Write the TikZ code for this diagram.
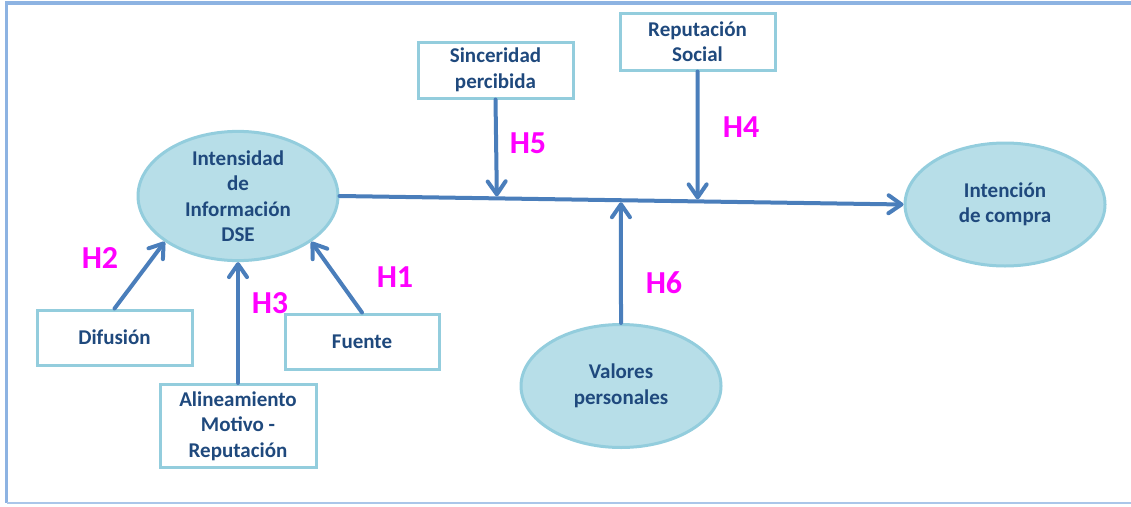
\documentclass[tikz,border=0pt]{standalone}
\usepackage{fontspec}
\setmainfont{Carlito}
\usetikzlibrary{arrows.meta,calc,shapes.geometric}
\definecolor{frameblue}{HTML}{8DB3E2}
\definecolor{boxline}{HTML}{93CDDD}
\definecolor{ellfill}{HTML}{B7DEE8}
\definecolor{arrblue}{HTML}{4A7EBB}
\definecolor{txtblue}{HTML}{1F497D}
\definecolor{hmag}{HTML}{FF00FF}
\begin{document}
\begin{tikzpicture}[x=1pt,y=-1pt,
  lbl/.style={text=txtblue, align=center, font=\fontsize{21}{25.5}\selectfont\bfseries},
  box/.style={lbl, draw=boxline, line width=3pt, fill=white, rectangle, inner sep=0pt},
  ell/.style={lbl, draw=boxline, line width=3pt, fill=ellfill, ellipse, inner sep=0pt, minimum width=200pt, minimum height=123pt},
  arr/.style={draw=arrblue, line width=4pt, line cap=round, -{Straight Barb[length=13pt,width=18pt,round]}},
  hl/.style={text=hmag, inner sep=0pt, font=\fontsize{32}{32}\selectfont\bfseries}]
\useasboundingbox (0,0) rectangle (1131,506);
% frame
\draw[frameblue, line width=3.5pt] (1131,3) -- (6.5,3) -- (6.5,503);
\draw[frameblue!75, line width=2.5pt] (6.5,503) -- (1131,503);
% nodes
\node[ell] (ie) at (238,196) {Intensidad\\de\\Información\\DSE};
\node[ell] (ic) at (1005,204.5) {Intención\\de compra};
\node[ell] (val) at (621,386) {Valores\\personales};
\node[box, minimum width=155pt, minimum height=56pt] (sin) at (495.5,70) {Sinceridad\\percibida};
\node[box, minimum width=155pt, minimum height=57pt] (rep) at (697.5,41.5) {Reputación\\Social};
\node[box, minimum width=155pt, minimum height=55pt] (dif) at (114.5,337.5) {Difusión};
\node[box, minimum width=154pt, minimum height=55pt] (fu) at (362,341.5) {Fuente};
\node[box, minimum width=156pt, minimum height=83pt] (al) at (238,426) {Alineamiento\\Motivo -\\Reputación};
% connectors
\draw[arr] (ie.east) -- (ic.west);
\coordinate (p5) at ($(ie.east)!0.279!(ic.west)$);
\coordinate (p4) at ($(ie.east)!0.635!(ic.west)$);
\coordinate (p6) at ($(ie.east)!0.499!(ic.west)$);
\draw[arr] (sin.south) -- ([yshift=2pt]p5);
\draw[arr] (rep.south) -- ([yshift=2pt]p4);
\draw[arr] (val.north) -- ([yshift=-2pt]p6);
\draw[arr] (dif.north) -- (ie.212);
\draw[arr] (fu.north) -- (ie.328);
\draw[arr] (al.north) -- (ie.south);
% labels
\node[hl] (h2) at (100,258) {H2};
\node[hl] (h1) at (395,277) {H1};
\node[hl] (h3) at (270,303) {H3};
\node[hl] (h5) at (528,143) {H5};
\node[hl] (h6) at (664,283) {H6};
\node[hl] (h4) at (741,127) {H4};
\end{tikzpicture}
\end{document}
